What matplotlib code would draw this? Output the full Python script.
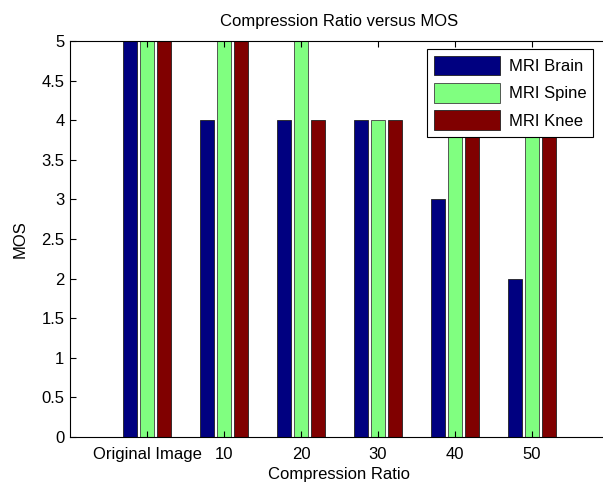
import numpy as np
import matplotlib.pyplot as plt

plt.rcParams['font.family'] = ['Liberation Sans', 'DejaVu Sans']

# MOS values per compression ratio
categories = ['Original Image', '10', '20', '30', '40', '50']
mri_brain = [5, 4, 4, 4, 3, 2]
mri_spine = [5, 5, 5, 4, 4, 4]
mri_knee = [5, 5, 4, 4, 4, 4]

fig = plt.figure(figsize=(6.03, 4.84), dpi=100)
ax = fig.add_axes([70 / 603, 47 / 484, 539 / 603, 396 / 484])

x = np.arange(1, len(categories) + 1)
w = 0.18
off = 0.22
ax.bar(x - off, mri_brain, w, color='#000080', edgecolor='#202020', linewidth=0.6, label='MRI Brain')
ax.bar(x, mri_spine, w, color='#80FF80', edgecolor='#404040', linewidth=0.6, label='MRI Spine')
ax.bar(x + off, mri_knee, w, color='#800000', edgecolor='#202020', linewidth=0.6, label='MRI Knee')

ax.set_xlim(0, 7)
ax.set_ylim(0, 5)
ax.set_xticks(x)
ax.set_xticklabels(categories)
ax.set_yticks(np.arange(0, 5.01, 0.5))
ax.set_yticklabels(['0', '0.5', '1', '1.5', '2', '2.5', '3', '3.5', '4', '4.5', '5'])
ax.tick_params(direction='in', top=True, right=True, length=4, labelsize=12)
ax.tick_params(axis='x', pad=7)
ax.tick_params(axis='y', pad=4)
for s in ax.spines.values():
    s.set_linewidth(0.8)

ax.set_title('Compression Ratio versus MOS', fontsize=12, pad=11)
ax.set_xlabel('Compression Ratio', fontsize=12, labelpad=4)
ax.set_ylabel('MOS', fontsize=12, labelpad=10)

leg = ax.legend(loc='upper right', bbox_to_anchor=(0.970, 0.980), borderaxespad=0, fontsize=12,
                fancybox=False, edgecolor='black', framealpha=1, handlelength=4.0, handleheight=1.45,
                borderpad=0.4, labelspacing=0.45, handletextpad=0.5)
leg.get_frame().set_linewidth(0.8)

fig.savefig('out.png', dpi=100)
